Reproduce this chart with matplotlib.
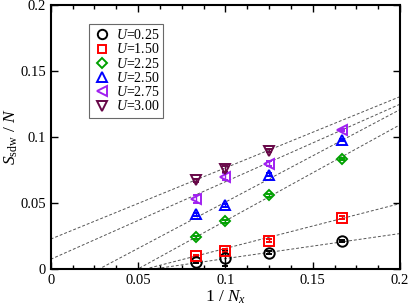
import matplotlib
matplotlib.use("Agg")
import matplotlib.pyplot as plt
import numpy as np
from matplotlib.lines import Line2D
from matplotlib.ticker import MultipleLocator, FormatStrFormatter

plt.rcParams['font.family'] = ['Liberation Serif', 'DejaVu Serif']
plt.rcParams['mathtext.fontset'] = 'custom'
plt.rcParams['mathtext.rm'] = 'Liberation Serif'
plt.rcParams['mathtext.it'] = 'Liberation Serif:italic'

# 1/Nx values
inv_nx = [1 / 12, 1 / 10, 1 / 8, 1 / 6]

labels = ['0.25', '1.50', '2.25', '2.50', '2.75', '3.00']
s_025 = [0.0053, 0.0080, 0.0123, 0.0211]
s_150 = [0.0098, 0.0138, 0.0213, 0.0389]
s_225 = [0.0239, 0.0361, 0.0557, 0.0834]
s_250 = [0.0414, 0.0482, 0.0715, 0.0977]
s_275 = [0.0527, 0.0700, 0.0796, 0.1052]
s_300 = [0.0670, 0.0758, 0.0896]

err_025 = [0.001, 0.0055, 0.001, 0.001]
err_150 = [0.001, 0.001, 0.001, 0.001]
err_225 = [0.001, 0.001, 0.001, 0.001]
err_250 = [0.001, 0.001, 0.001, 0.001]
err_275 = [0.003, 0.003, 0.002, 0.001]
err_300 = [0.001, 0.002, 0.001]

# linear fits: intercept, slope
fit_b = [-0.0112, -0.0185, -0.0364, -0.0195, 0.0073, 0.0226]
fit_m = [0.19, 0.34, 0.728, 0.701, 0.5875, 0.5395]

series = [s_025, s_150, s_225, s_250, s_275, s_300]
errs = [err_025, err_150, err_225, err_250, err_275, err_300]
colors = ['black', '#ff0000', '#00a000', '#0000ff', '#a020f0', '#670748']
markers = ['o', 's', 'D', '^', '<', 'v']
msizes = [7.5, 6.5, 5.5, 7.5, 7.5, 7.5]

fig = plt.figure(figsize=(4.09, 3.07), dpi=100)
ax = fig.add_axes([0.124, 0.124, 0.854, 0.86])

xx = np.array([0, 0.2])
for b, m in zip(fit_b, fit_m):
    ax.plot(xx, b + m * xx, ls=(0, (3, 2)), color='#555555', lw=0.7, zorder=1)

handles = []
for i in range(len(series)):
    y = series[i]
    ax.errorbar(inv_nx[:len(y)], y, yerr=errs[i], fmt=markers[i], ms=msizes[i],
                mfc='none', mec=colors[i], mew=1.4, ecolor=colors[i], elinewidth=1,
                capsize=2.5, zorder=3)
    handles.append(Line2D([], [], ls='none', marker=markers[i], ms=msizes[i] * 0.9,
                          mfc='none', mec=colors[i], mew=1.4,
                          label='$U$=' + labels[i]))

ax.set_xlim(0, 0.2)
ax.set_ylim(0, 0.2)
ax.xaxis.set_major_locator(MultipleLocator(0.05))
ax.xaxis.set_minor_locator(MultipleLocator(0.0125))
ax.yaxis.set_major_locator(MultipleLocator(0.05))
ax.xaxis.set_major_formatter(FormatStrFormatter('%g'))
ax.yaxis.set_major_formatter(FormatStrFormatter('%g'))
ax.tick_params(which='both', direction='in', top=True, right=True, labelsize=10.5)
ax.tick_params(which='major', length=5, width=1)
ax.tick_params(which='minor', length=3, width=1)
ax.tick_params(axis='y', which='minor', left=False, right=False)
for sp in ax.spines.values():
    sp.set_linewidth(1.5)

ax.set_xlabel('1 / $N_x$', fontsize=12.5, labelpad=1)
ax.set_ylabel(r'$S_{\mathrm{sdw}}$ / $N$', fontsize=12.5, labelpad=0)

leg = ax.legend(handles=handles, loc='upper left', bbox_to_anchor=(0.11, 0.928),
                borderaxespad=0, fontsize=10, frameon=True, fancybox=False,
                edgecolor='#444444', labelspacing=0.02, handletextpad=0.4,
                handlelength=1.2, borderpad=0.3)
leg.get_frame().set_linewidth(0.8)

fig.savefig('out.png', dpi=100)
